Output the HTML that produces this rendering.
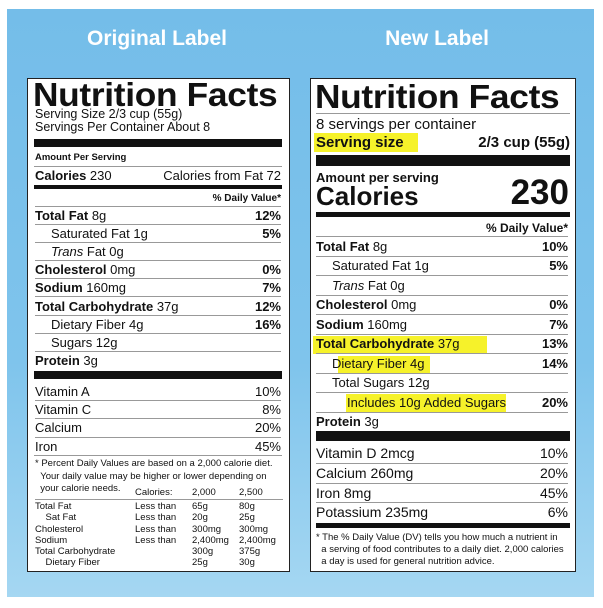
<!DOCTYPE html>
<html><head><meta charset="utf-8"><style>
*{margin:0;padding:0;box-sizing:border-box}
body{width:603px;height:608px;background:#fff;position:relative;overflow:hidden;font-family:"Liberation Sans",Arial,sans-serif;color:#111}
.bg{position:absolute;left:7px;top:9px;width:587px;height:588px;background:linear-gradient(#74bde9,#7fc4ec 60%,#a5d7f2)}
.t{position:absolute;top:27px;color:#fff;font-weight:bold;font-size:21px;text-align:center;width:260px}
.box{position:absolute;top:78px;height:494px;background:#fff;border:1.5px solid #222}
.a{position:absolute;white-space:nowrap}
.r{position:absolute;display:flex;justify-content:space-between;align-items:center;white-space:nowrap}
.bar{position:absolute;background:#111}
.ln{position:absolute;height:1px;background:#999}
b{font-weight:900}
.hl{position:absolute;background:#f6f22a}
</style></head><body>
<div class="bg"></div>
<div class="t" style="left:27px">Original Label</div>
<div class="t" style="left:307px">New Label</div>

<!-- LEFT -->
<div class="box" style="left:27px;width:263px"></div>
<div class="a" style="left:33px;top:76px;font-size:33px;font-weight:bold;letter-spacing:-0.3px;transform:scaleX(1.07);transform-origin:left">Nutrition Facts</div>
<div class="a" style="left:35px;top:108px;font-size:12.5px;line-height:13px">Serving Size 2/3 cup (55g)<br>Servings Per Container About 8</div>
<div class="bar" style="left:34px;width:248px;top:139px;height:8px"></div>
<div class="a" style="left:35px;top:152px;font-size:9.5px;font-weight:bold">Amount Per Serving</div>
<div class="ln" style="left:34px;width:248px;top:166px"></div>
<div class="r" style="left:35px;width:246px;top:167px;height:17px;font-size:13px"><span><b>Calories</b> 230</span><span>Calories from Fat 72</span></div>
<div class="bar" style="left:34px;width:248px;top:185px;height:4px"></div>
<div class="r" style="left:35px;width:246px;top:191px;height:14px;font-size:10px;justify-content:flex-end"><b>% Daily Value*</b></div>
<div class="r" style="left:35px;width:246px;top:206px;font-size:13px;flex-direction:column;align-items:stretch">
<div class="r" style="position:static;height:18.1px;border-top:1px solid #999"><span><b>Total Fat</b> 8g</span><b>12%</b></div>
<div class="r" style="position:static;height:18.1px;border-top:1px solid #999;padding-left:16px"><span>Saturated Fat 1g</span><b>5%</b></div>
<div class="r" style="position:static;height:18.1px;border-top:1px solid #999;padding-left:16px"><span><i>Trans</i> Fat 0g</span></div>
<div class="r" style="position:static;height:18.1px;border-top:1px solid #999"><span><b>Cholesterol</b> 0mg</span><b>0%</b></div>
<div class="r" style="position:static;height:18.1px;border-top:1px solid #999"><span><b>Sodium</b> 160mg</span><b>7%</b></div>
<div class="r" style="position:static;height:18.1px;border-top:1px solid #999"><span><b>Total Carbohydrate</b> 37g</span><b>12%</b></div>
<div class="r" style="position:static;height:18.1px;border-top:1px solid #999;padding-left:16px"><span>Dietary Fiber 4g</span><b>16%</b></div>
<div class="r" style="position:static;height:18.1px;border-top:1px solid #999;padding-left:16px"><span>Sugars 12g</span></div>
<div class="r" style="position:static;height:18.1px;border-top:1px solid #999"><span><b>Protein</b> 3g</span></div>
</div>
<div class="bar" style="left:34px;width:248px;top:371px;height:8px"></div>
<div class="r" style="left:35px;width:246px;top:382px;font-size:13px;flex-direction:column;align-items:stretch">
<div class="r" style="position:static;height:18.2px"><span>Vitamin A</span><span>10%</span></div>
<div class="r" style="position:static;height:18.2px;border-top:1px solid #999"><span>Vitamin C</span><span>8%</span></div>
<div class="r" style="position:static;height:18.2px;border-top:1px solid #999"><span>Calcium</span><span>20%</span></div>
<div class="r" style="position:static;height:18.2px;border-top:1px solid #999"><span>Iron</span><span>45%</span></div>
</div>
<div class="ln" style="left:34px;width:248px;top:455px"></div>
<div class="a" style="left:35px;top:458px;font-size:9.5px;line-height:12.5px">* Percent Daily Values are based on a 2,000 calorie diet.<br>&nbsp;&nbsp;Your daily value may be higher or lower depending on<br>&nbsp;&nbsp;your calorie needs.</div>
<div class="a" style="left:35px;top:487px;font-size:9.5px;line-height:11.2px">
<div style="display:flex"><span style="width:100px"></span><span style="width:57px">Calories:</span><span style="width:47px">2,000</span><span>2,500</span></div>
<div style="height:1px;background:#999;width:248px;margin:1px 0 1px"></div>
<div style="display:flex"><span style="width:100px">Total Fat</span><span style="width:57px">Less than</span><span style="width:47px">65g</span><span>80g</span></div>
<div style="display:flex"><span style="width:100px">&nbsp;&nbsp;&nbsp;&nbsp;Sat Fat</span><span style="width:57px">Less than</span><span style="width:47px">20g</span><span>25g</span></div>
<div style="display:flex"><span style="width:100px">Cholesterol</span><span style="width:57px">Less than</span><span style="width:47px">300mg</span><span>300mg</span></div>
<div style="display:flex"><span style="width:100px">Sodium</span><span style="width:57px">Less than</span><span style="width:47px">2,400mg</span><span>2,400mg</span></div>
<div style="display:flex"><span style="width:100px">Total Carbohydrate</span><span style="width:57px"></span><span style="width:47px">300g</span><span>375g</span></div>
<div style="display:flex"><span style="width:100px">&nbsp;&nbsp;&nbsp;&nbsp;Dietary Fiber</span><span style="width:57px"></span><span style="width:47px">25g</span><span>30g</span></div>
</div>

<!-- RIGHT -->
<div class="box" style="left:310px;width:266px"></div>
<div class="hl" style="left:314px;top:133px;width:104px;height:19px"></div>
<div class="hl" style="left:313px;top:336px;width:174px;height:18px"></div>
<div class="hl" style="left:338px;top:356px;width:92px;height:17px"></div>
<div class="hl" style="left:346px;top:394px;width:160px;height:18px"></div>
<div class="a" style="left:315px;top:78px;font-size:33px;font-weight:bold;letter-spacing:-0.3px;transform:scaleX(1.07);transform-origin:left">Nutrition Facts</div>
<div class="ln" style="left:316px;width:254px;top:113px"></div>
<div class="a" style="left:316px;top:116px;font-size:15px">8 servings per container</div>
<div class="r" style="left:316px;width:254px;top:133px;height:18px;font-size:15px;font-weight:bold"><span>Serving size</span><span>2/3 cup (55g)</span></div>
<div class="bar" style="left:316px;width:254px;top:155px;height:11px"></div>
<div class="a" style="left:316px;top:170px;font-size:13px;font-weight:bold">Amount per serving</div>
<div class="a" style="left:316px;top:181px;font-size:26px;font-weight:bold">Calories</div>
<div class="a" style="right:34px;top:173px;font-size:35px;font-weight:bold">230</div>
<div class="bar" style="left:316px;width:254px;top:212px;height:5px"></div>
<div class="r" style="left:316px;width:252px;top:219px;height:17px;font-size:12px;justify-content:flex-end"><b>% Daily Value*</b></div>
<div class="r" style="left:316px;width:252px;top:236px;font-size:13px;flex-direction:column;align-items:stretch">
<div class="r" style="position:static;height:19.5px;border-top:1px solid #999"><span><b>Total Fat</b> 8g</span><b>10%</b></div>
<div class="r" style="position:static;height:19.5px;border-top:1px solid #999;padding-left:16px"><span>Saturated Fat 1g</span><b>5%</b></div>
<div class="r" style="position:static;height:19.5px;border-top:1px solid #999;padding-left:16px"><span><i>Trans</i> Fat 0g</span></div>
<div class="r" style="position:static;height:19.5px;border-top:1px solid #999"><span><b>Cholesterol</b> 0mg</span><b>0%</b></div>
<div class="r" style="position:static;height:19.5px;border-top:1px solid #999"><span><b>Sodium</b> 160mg</span><b>7%</b></div>
<div class="r" style="position:static;height:19.5px;border-top:1px solid #999"><span><b>Total Carbohydrate</b> 37g</span><b>13%</b></div>
<div class="r" style="position:static;height:19.5px;border-top:1px solid #999;padding-left:16px"><span>Dietary Fiber 4g</span><b>14%</b></div>
<div class="r" style="position:static;height:19.5px;border-top:1px solid #999;padding-left:16px"><span>Total Sugars 12g</span></div>
<div class="r" style="position:static;height:19.5px;border-top:1px solid #999;padding-left:31px"><span>Includes 10g Added Sugars</span><b>20%</b></div>
<div class="r" style="position:static;height:19px;border-top:1px solid #999"><span><b>Protein</b> 3g</span></div>
</div>
<div class="bar" style="left:316px;width:254px;top:431px;height:10px"></div>
<div class="r" style="left:316px;width:252px;top:443px;font-size:14px;flex-direction:column;align-items:stretch">
<div class="r" style="position:static;height:20px"><span>Vitamin D 2mcg</span><span>10%</span></div>
<div class="r" style="position:static;height:19.5px;border-top:1px solid #999"><span>Calcium 260mg</span><span>20%</span></div>
<div class="r" style="position:static;height:19.5px;border-top:1px solid #999"><span>Iron 8mg</span><span>45%</span></div>
<div class="r" style="position:static;height:19.5px;border-top:1px solid #999"><span>Potassium 235mg</span><span>6%</span></div>
</div>
<div class="bar" style="left:316px;width:254px;top:523px;height:5px"></div>
<div class="a" style="left:316px;top:532px;font-size:9.5px;line-height:12px">* The % Daily Value (DV) tells you how much a nutrient in<br>&nbsp;&nbsp;a serving of food contributes to a daily diet. 2,000 calories<br>&nbsp;&nbsp;a day is used for general nutrition advice.</div>
</body></html>
